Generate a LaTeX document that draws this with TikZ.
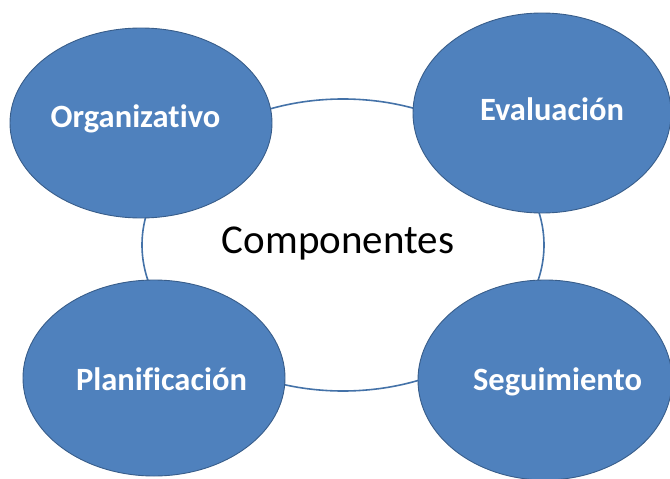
\documentclass[tikz,border=0pt]{standalone}
\usepackage{fontspec}
\setmainfont[Ligatures=NoCommon]{Carlito}
\usetikzlibrary{shapes.geometric}
\definecolor{bfill}{HTML}{4F81BD}
\definecolor{bline}{HTML}{385D8A}
\definecolor{cline}{HTML}{4472A8}
\begin{document}
\begin{tikzpicture}[x=1pt,y=-1pt,
  blueell/.style={ellipse, draw=bline, fill=bfill, line width=0.9pt, inner sep=0pt},
  centerell/.style={ellipse, draw=cline, line width=1.6pt, inner sep=0pt, fill=white},
  lbl/.style={anchor=base, text=white, font=\fontsize{32.5}{38}\selectfont\bfseries, inner sep=0pt}]
\useasboundingbox (0,0) rectangle (670,479);
\node[centerell, minimum width=402pt, minimum height=292pt] (comp) at (343,245) {};
\node[anchor=base, inner sep=0pt, font=\fontsize{41}{48}\selectfont] (ct) at (338,253) {Componentes};
\node[blueell, minimum width=262pt, minimum height=190pt] (org) at (141,123) {};
\node[blueell, minimum width=258pt, minimum height=200pt] (eva) at (542,113) {};
\node[blueell, minimum width=262pt, minimum height=196pt] (pla) at (154,378) {};
\node[blueell, minimum width=254pt, minimum height=200pt] (seg) at (545,380) {};
\node[lbl] (orgt) at (135.5,127) {Organizativo};
\node[lbl] (evat) at (552,120) {Evaluación};
\node[lbl] (plat) at (161.5,390) {Planificación};
\node[lbl] (segt) at (557.5,390) {Seguimiento};
\end{tikzpicture}
\end{document}
